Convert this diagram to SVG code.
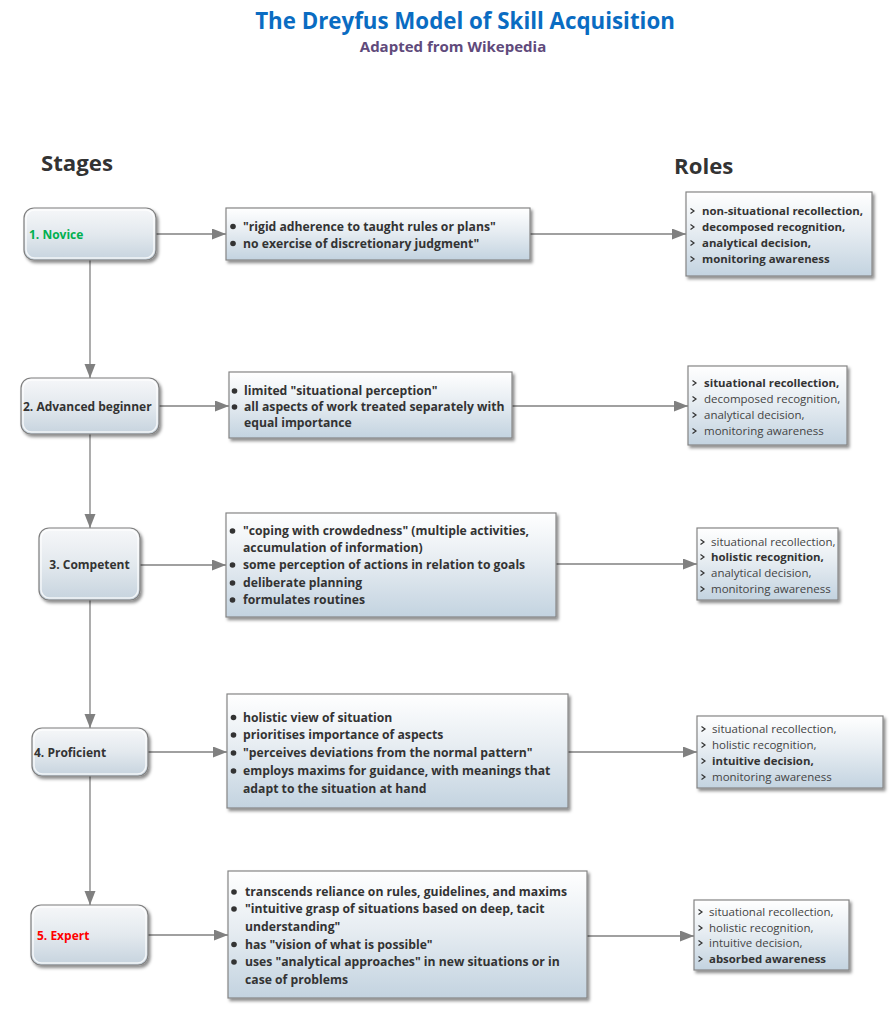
<svg xmlns="http://www.w3.org/2000/svg" width="893" height="1024" viewBox="0 0 893 1024">
<style>
text{font-family:"Open Sans","Noto Sans","DejaVu Sans",sans-serif;fill:#333333}
.title{font-size:22.3px;font-weight:bold;fill:#0a6cc2}
.sub{font-size:15px;font-weight:bold;fill:#604a7b}
.head{font-size:22.2px;font-weight:bold;fill:#333333}
.stage{font-size:12px;font-weight:bold}
.d{font-size:12.2px;font-weight:bold}
.r{font-size:11.5px;fill:#444444}
.rb{font-size:11.4px;font-weight:bold;fill:#333333}
.box{fill:url(#gBox);stroke:#858585;stroke-width:1.2}
.node{fill:url(#gNode);stroke:#7f7f7f;stroke-width:1.2}
.inner{fill:none;stroke:#ffffff;stroke-opacity:0.75;stroke-width:1.5}
.conn{stroke:#808080;stroke-width:1.3;fill:none}
.bul{fill:#333333}
.chev{fill:none;stroke:#333333;stroke-width:1.2}
</style>
<defs>
<linearGradient id="gBox" x1="0" y1="0" x2="0" y2="1">
<stop offset="0" stop-color="#ffffff"/>
<stop offset="0.45" stop-color="#e7edf2"/>
<stop offset="1" stop-color="#c3d3e0"/>
</linearGradient>
<linearGradient id="gNode" x1="0" y1="0" x2="0" y2="1">
<stop offset="0" stop-color="#f6f7f9"/>
<stop offset="0.5" stop-color="#e3e9ee"/>
<stop offset="1" stop-color="#c6d3de"/>
</linearGradient>
<filter id="sh" x="-10%" y="-10%" width="125%" height="135%">
<feDropShadow dx="2" dy="2.5" stdDeviation="1.5" flood-color="#000000" flood-opacity="0.45"/>
</filter>
<marker id="arr" markerUnits="userSpaceOnUse" markerWidth="16" markerHeight="12" refX="14" refY="5.5" orient="auto">
<path d="M0,0 L14,5.5 L0,11 z" fill="#808080"/>
</marker>
</defs>
<rect width="893" height="1024" fill="#ffffff"/>

<g id="title">
<text class="title" x="465" y="29" text-anchor="middle">The Dreyfus Model of Skill Acquisition</text>
<text class="sub" x="453" y="52" text-anchor="middle">Adapted from Wikepedia</text>
</g>
<g id="headings">
<text class="head" x="41" y="171">Stages</text>
<text class="head" x="674" y="174">Roles</text>
</g>

<g id="connectors">
<line class="conn" x1="90" y1="260" x2="90" y2="378" marker-end="url(#arr)"/>
<line class="conn" x1="90" y1="434" x2="90" y2="528" marker-end="url(#arr)"/>
<line class="conn" x1="90" y1="600" x2="90" y2="728" marker-end="url(#arr)"/>
<line class="conn" x1="90" y1="776" x2="90" y2="905" marker-end="url(#arr)"/>
<line class="conn" x1="156" y1="234" x2="226" y2="234" marker-end="url(#arr)"/>
<line class="conn" x1="530" y1="234" x2="686" y2="234" marker-end="url(#arr)"/>
<line class="conn" x1="159" y1="406" x2="229" y2="406" marker-end="url(#arr)"/>
<line class="conn" x1="512" y1="406" x2="688" y2="406" marker-end="url(#arr)"/>
<line class="conn" x1="140" y1="565" x2="226" y2="565" marker-end="url(#arr)"/>
<line class="conn" x1="556" y1="564" x2="697" y2="564" marker-end="url(#arr)"/>
<line class="conn" x1="148" y1="752" x2="227" y2="752" marker-end="url(#arr)"/>
<line class="conn" x1="568" y1="752" x2="697" y2="752" marker-end="url(#arr)"/>
<line class="conn" x1="148" y1="935" x2="228" y2="935" marker-end="url(#arr)"/>
<line class="conn" x1="587" y1="936" x2="694" y2="936" marker-end="url(#arr)"/>
</g>

<g id="stage1">
<rect class="node" x="24" y="208" width="132" height="52" rx="10" filter="url(#sh)"/>
<rect class="inner" x="26" y="210" width="128" height="48" rx="8.5"/>
<text class="stage" x="29" y="239" style="fill:#00b050">1. Novice</text>
</g>
<g id="stage2">
<rect class="node" x="21" y="378" width="138" height="56" rx="10" filter="url(#sh)"/>
<rect class="inner" x="23" y="380" width="134" height="52" rx="8.5"/>
<text class="stage" x="23" y="411">2. Advanced beginner</text>
</g>
<g id="stage3">
<rect class="node" x="39" y="528" width="101" height="72" rx="10" filter="url(#sh)"/>
<rect class="inner" x="41" y="530" width="97" height="68" rx="8.5"/>
<text class="stage" x="89.5" y="569" text-anchor="middle">3. Competent</text>
</g>
<g id="stage4">
<rect class="node" x="32" y="728" width="116" height="48" rx="10" filter="url(#sh)"/>
<rect class="inner" x="34" y="730" width="112" height="44" rx="8.5"/>
<text class="stage" x="34" y="757">4. Proficient</text>
</g>
<g id="stage5">
<rect class="node" x="31" y="905" width="117" height="60" rx="10" filter="url(#sh)"/>
<rect class="inner" x="33" y="907" width="113" height="56" rx="8.5"/>
<text class="stage" x="37" y="940" style="fill:#ff0000">5. Expert</text>
</g>

<g id="desc1">
<rect class="box" x="226" y="208" width="304" height="52" filter="url(#sh)"/>
<circle class="bul" cx="233" cy="226.5" r="2.8"/><circle class="bul" cx="233" cy="243.5" r="2.8"/>
<text class="d" x="243" y="230.5">"rigid adherence to taught rules or plans"</text>
<text class="d" x="243" y="247.5">no exercise of discretionary judgment"</text>
</g>
<g id="desc2">
<rect class="box" x="229" y="372" width="283" height="66" filter="url(#sh)"/>
<circle class="bul" cx="234.5" cy="391" r="2.8"/><circle class="bul" cx="234.5" cy="407" r="2.8"/>
<text class="d" x="244" y="395">limited "situational perception"</text>
<text class="d" x="244" y="411">all aspects of work treated separately with</text>
<text class="d" x="244" y="427">equal importance</text>
</g>
<g id="desc3">
<rect class="box" x="226" y="513" width="330" height="104" filter="url(#sh)"/>
<circle class="bul" cx="232.5" cy="531" r="2.8"/><circle class="bul" cx="232.5" cy="565" r="2.8"/><circle class="bul" cx="232.5" cy="583" r="2.8"/><circle class="bul" cx="232.5" cy="600" r="2.8"/>
<text class="d" x="243" y="535">"coping with crowdedness" (multiple activities,</text>
<text class="d" x="243" y="552">accumulation of information)</text>
<text class="d" x="243" y="569">some perception of actions in relation to goals</text>
<text class="d" x="243" y="587">deliberate planning</text>
<text class="d" x="243" y="604">formulates routines</text>
</g>
<g id="desc4">
<rect class="box" x="227" y="694" width="341" height="114" filter="url(#sh)"/>
<circle class="bul" cx="233.5" cy="717.5" r="2.8"/><circle class="bul" cx="233.5" cy="735" r="2.8"/><circle class="bul" cx="233.5" cy="753" r="2.8"/><circle class="bul" cx="233.5" cy="771" r="2.8"/>
<text class="d" x="243" y="721.5">holistic view of situation</text>
<text class="d" x="243" y="739">prioritises importance of aspects</text>
<text class="d" x="243" y="757">"perceives deviations from the normal pattern"</text>
<text class="d" x="243" y="775">employs maxims for guidance, with meanings that</text>
<text class="d" x="243" y="792.5">adapt to the situation at hand</text>
</g>
<g id="desc5">
<rect class="box" x="228" y="871" width="359" height="127" filter="url(#sh)"/>
<circle class="bul" cx="234" cy="892" r="2.8"/><circle class="bul" cx="234" cy="909" r="2.8"/><circle class="bul" cx="234" cy="944.5" r="2.8"/><circle class="bul" cx="234" cy="962" r="2.8"/>
<text class="d" x="245" y="896">transcends reliance on rules, guidelines, and maxims</text>
<text class="d" x="245" y="913">"intuitive grasp of situations based on deep, tacit</text>
<text class="d" x="245" y="931">understanding"</text>
<text class="d" x="245" y="948.5">has "vision of what is possible"</text>
<text class="d" x="245" y="966">uses "analytical approaches" in new situations or in</text>
<text class="d" x="245" y="983.5">case of problems</text>
</g>

<g id="roles1">
<rect class="box" x="686" y="192" width="186" height="84" filter="url(#sh)"/>
<path class="chev" d="M690.5,208.5 l3.5,2.5 l-3.5,2.5 M690.5,224.5 l3.5,2.5 l-3.5,2.5 M690.5,240.5 l3.5,2.5 l-3.5,2.5 M690.5,256.5 l3.5,2.5 l-3.5,2.5"/>
<text class="rb" x="702" y="215">non-situational recollection,</text>
<text class="rb" x="702" y="231">decomposed recognition,</text>
<text class="rb" x="702" y="247">analytical decision,</text>
<text class="rb" x="702" y="263">monitoring awareness</text>
</g>
<g id="roles2">
<rect class="box" x="688" y="366" width="159" height="79" filter="url(#sh)"/>
<path class="chev" d="M692.5,380.5 l3.5,2.5 l-3.5,2.5 M692.5,396.5 l3.5,2.5 l-3.5,2.5 M692.5,412.5 l3.5,2.5 l-3.5,2.5 M692.5,428.5 l3.5,2.5 l-3.5,2.5"/>
<text class="rb" x="704" y="387">situational recollection,</text>
<text class="r" x="704" y="403">decomposed recognition,</text>
<text class="r" x="704" y="419">analytical decision,</text>
<text class="r" x="704" y="435">monitoring awareness</text>
</g>
<g id="roles3">
<rect class="box" x="697" y="528" width="141" height="72" filter="url(#sh)"/>
<path class="chev" d="M700.5,539.5 l3.5,2.5 l-3.5,2.5 M700.5,554.5 l3.5,2.5 l-3.5,2.5 M700.5,570.5 l3.5,2.5 l-3.5,2.5 M700.5,586.5 l3.5,2.5 l-3.5,2.5"/>
<text class="r" x="711" y="546">situational recollection,</text>
<text class="rb" x="711" y="561">holistic recognition,</text>
<text class="r" x="711" y="577">analytical decision,</text>
<text class="r" x="711" y="593">monitoring awareness</text>
</g>
<g id="roles4">
<rect class="box" x="697" y="716" width="186" height="72" filter="url(#sh)"/>
<path class="chev" d="M701.5,726.5 l3.5,2.5 l-3.5,2.5 M701.5,742.5 l3.5,2.5 l-3.5,2.5 M701.5,758.5 l3.5,2.5 l-3.5,2.5 M701.5,774.5 l3.5,2.5 l-3.5,2.5"/>
<text class="r" x="712" y="733">situational recollection,</text>
<text class="r" x="712" y="749">holistic recognition,</text>
<text class="rb" x="712" y="765">intuitive decision,</text>
<text class="r" x="712" y="781">monitoring awareness</text>
</g>
<g id="roles5">
<rect class="box" x="694" y="900" width="155" height="70" filter="url(#sh)"/>
<path class="chev" d="M698.5,909.5 l3.5,2.5 l-3.5,2.5 M698.5,925.5 l3.5,2.5 l-3.5,2.5 M698.5,940.5 l3.5,2.5 l-3.5,2.5 M698.5,956.5 l3.5,2.5 l-3.5,2.5"/>
<text class="r" x="709" y="916">situational recollection,</text>
<text class="r" x="709" y="932">holistic recognition,</text>
<text class="r" x="709" y="947">intuitive decision,</text>
<text class="rb" x="709" y="963">absorbed awareness</text>
</g>
</svg>
